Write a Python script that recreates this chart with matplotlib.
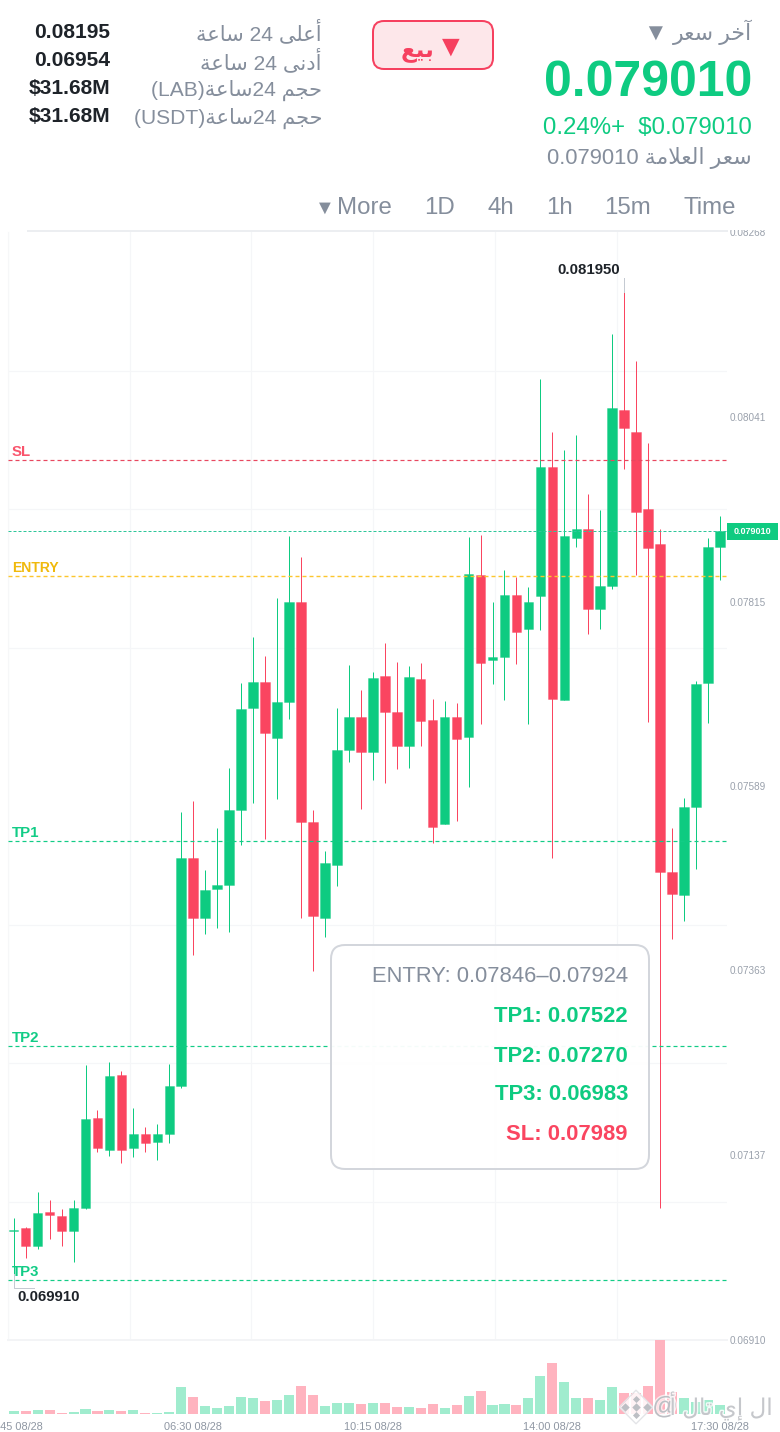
import numpy as np
import matplotlib
matplotlib.use('Agg')
import matplotlib.pyplot as plt
import matplotlib.patheffects as pe
from matplotlib.patches import FancyBboxPatch, Rectangle
from matplotlib.lines import Line2D
from matplotlib.transforms import IdentityTransform

plt.rcParams['font.family'] = ['Liberation Sans', 'DejaVu Sans']
plt.rcParams['lines.scale_dashes'] = False

# ---------- data ----------
opens = [.070436,.070473,.070252,.070669,.070620,.070436,.070718,.071821,.071429,.072348,
         .071453,.071625,.071527,.071625,.072213,.075008,.074272,.074628,.074677,.075596,
         .076846,.077165,.076478,.076920,.078145,.075449,.074272,.074922,.076331,.076736,
         .076307,.077238,.076797,.076380,.077201,.076699,.075424,.076736,.076491,.078476,
         .077434,.077471,.078231,.077814,.078221,.079800,.076944,.078930,.079040,.078059,
         .078341,.080498,.080229,.079285,.078856,.074836,.074554,.075633,.077152,.078819]
closes = [.070448,.070252,.070657,.070632,.070436,.070718,.071809,.071453,.072336,.071429,
          .071625,.071515,.071625,.072213,.075008,.074272,.074615,.074677,.075596,.076834,
          .077165,.076540,.076920,.078145,.075449,.074297,.074946,.076331,.076736,.076307,
          .077214,.076797,.076380,.077226,.076687,.075388,.076736,.076466,.078488,.077398,
          .077471,.078231,.077778,.078145,.079800,.076956,.078954,.079040,.078059,.078341,
          .080523,.080278,.079248,.078807,.074836,.074566,.075633,.077140,.078819,.079010]
highs = [.070595,.070485,.070914,.070816,.070706,.070816,.072471,.071919,.072507,.072397,
         .071944,.071711,.071747,.072483,.075571,.075706,.074861,.075375,.076111,.077152,
         .077716,.077483,.078194,.078954,.078697,.075596,.075093,.076846,.077373,.077067,
         .077287,.077643,.077410,.077361,.077398,.076956,.076932,.076907,.078942,.078966,
         .078145,.078537,.078452,.078329,.080878,.080229,.080008,.080192,.079469,.079273,
         .081430,.081950,.081099,.080094,.079040,.075375,.075743,.077177,.078930,.079199]
lows = [.069910,.070105,.070215,.070338,.070252,.070056,.070706,.071404,.071355,.071269,
        .071343,.071404,.071306,.071515,.072189,.073819,.074076,.074150,.074101,.075167,
        .075682,.075240,.075731,.076711,.074272,.073623,.074039,.074664,.076184,.075608,
        .075964,.075927,.076098,.076111,.076380,.075191,.075424,.075461,.075878,.076650,
        .077140,.076944,.077385,.076650,.077802,.075008,.076944,.078819,.077753,.077814,
        .078305,.079775,.078476,.076674,.070718,.074015,.074235,.074873,.076662,.078415]
volumes = [3,3,3.7,4,1.3,2,5,3,3.7,3.3,4,1.3,1,2,26.5,16.5,7.8,6.4,7.8,16.8,
           15.8,13,13.7,18.7,28.3,19.3,8,11,11.3,10,11,10.7,6.7,6.7,5.7,10,5.7,9.3,17.7,22.7,
           8.7,10,8.7,16.3,38.3,50.3,32,15.7,16.3,14,27,21.3,21,28.3,73.7,22,16,12,13.7,9]

price_ticks = [0.08268, 0.08041, 0.07815, 0.07589, 0.07363, 0.07137, 0.06910]
price_tick_labels = ['0.08268', '0.08041', '0.07815', '0.07589', '0.07363', '0.07137', '0.06910']
time_tick_idx = [0, 15, 30, 45, 59]
time_tick_labels = ['02:45 08/28', '06:30 08/28', '10:15 08/28', '14:00 08/28', '17:30 08/28']

level_names = ['SL', 'ENTRY', 'TP1', 'TP2', 'TP3']
level_prices = [0.07989, 0.07846, 0.07522, 0.07270, 0.06983]
level_colors = ['#e8475f', '#fcc62d', '#12cc86', '#12cc86', '#12cc86']
level_text_colors = ['#f9546c', '#f0b90b', '#12cc86', '#12cc86', '#12cc86']
last_price = 0.07901
high_price, low_price = 0.08195, 0.06991

GREEN = '#0ECB81'
RED = '#FA4560'
GREY = '#858E9C'
DARK = '#1E2329'

# ---------- Arabic shaping (matplotlib draws glyphs without joining or bidi) ----------
FORMS = {'ا':(0xFE8D,0xFE8E),'أ':(0xFE83,0xFE84),'آ':(0xFE81,0xFE82),'إ':(0xFE87,0xFE88),
         'د':(0xFEA9,0xFEAA),'ر':(0xFEAD,0xFEAE),'ة':(0xFE93,0xFE94),'ى':(0xFEEF,0xFEF0),
         'ب':(0xFE8F,0xFE90,0xFE91,0xFE92),'ت':(0xFE95,0xFE96,0xFE97,0xFE98),
         'ث':(0xFE99,0xFE9A,0xFE9B,0xFE9C),'ج':(0xFE9D,0xFE9E,0xFE9F,0xFEA0),
         'ح':(0xFEA1,0xFEA2,0xFEA3,0xFEA4),'خ':(0xFEA5,0xFEA6,0xFEA7,0xFEA8),
         'س':(0xFEB1,0xFEB2,0xFEB3,0xFEB4),'ع':(0xFEC9,0xFECA,0xFECB,0xFECC),
         'ل':(0xFEDD,0xFEDE,0xFEDF,0xFEE0),'م':(0xFEE1,0xFEE2,0xFEE3,0xFEE4),
         'ن':(0xFEE5,0xFEE6,0xFEE7,0xFEE8),'ي':(0xFEF1,0xFEF2,0xFEF3,0xFEF4)}
LAM_ALEF = {'ا':(0xFEFB,0xFEFC),'أ':(0xFEF7,0xFEF8),'إ':(0xFEF9,0xFEFA),'آ':(0xFEF5,0xFEF6)}

def ar(s):
    out, i, prev = [], 0, False
    while i < len(s):
        c = s[i]
        if c not in FORMS:
            out.append(c); prev = False; i += 1; continue
        if c == 'ل' and i + 1 < len(s) and s[i + 1] in LAM_ALEF:
            iso, fin = LAM_ALEF[s[i + 1]]
            out.append(chr(fin if prev else iso)); prev = False; i += 2; continue
        f = FORMS[c]
        nxt = i + 1 < len(s) and s[i + 1] in FORMS
        if len(f) == 2:
            out.append(chr(f[1] if prev else f[0])); prev = False
        else:
            out.append(chr(f[3] if prev and nxt else f[1] if prev else f[2] if nxt else f[0])); prev = True
        i += 1
    return ''.join(reversed(out))

# ---------- layout ----------
W, H = 780, 1432
fig = plt.figure(figsize=(W / 100, H / 100), dpi=100, facecolor='white')
px = 0.72  # one pixel in points
L, R, T, B = 8, 727, 232, 1340
ax = fig.add_axes([L / W, (H - B) / H, (R - L) / W, (B - T) / H])
axv = fig.add_axes([L / W, (H - 1414) / H, (R - L) / W, 74 / H])
ui = fig.add_axes([0, 0, 1, 1])
ui.set_xlim(0, W); ui.set_ylim(H, 0); ui.axis('off'); ui.patch.set_alpha(0)

n = len(opens)
x = np.arange(n)
xlim = (-0.476, 59.59)
o, c, h, l = map(np.array, (opens, closes, highs, lows))
up = c >= o
cols = [GREEN if u else RED for u in up]

# ---------- candles ----------
ax.vlines(x, l, h, colors=cols, lw=1.0 * px, zorder=2)
ax.bar(x, np.abs(c - o), bottom=np.minimum(o, c), width=0.80, color=cols,
       edgecolor=[(*matplotlib.colors.to_rgb(k), 0.35) for k in cols], lw=1.0 * px, zorder=3)
ax.set_xlim(*xlim)
ax.set_ylim(0.06910, 0.08268)
ax.yaxis.tick_right()
ax.set_yticks(price_ticks)
ax.set_yticklabels(price_tick_labels, color='#9AA1AC', fontsize=10 * px)
ax.set_yticks(np.linspace(0.06910, 0.08268, 9), minor=True)
ax.set_xticks(xlim[0] + 10.167 * np.arange(6), minor=True)
ax.set_xticks([])
ax.tick_params(axis='both', which='both', length=0, pad=3 * px, labelbottom=False)
ax.grid(True, which='minor', color='#F5F6F8', lw=1.2 * px, zorder=0)
ax.grid(False, which='major')
for name, sp in ax.spines.items():
    sp.set_visible(False)
ax.spines['left'].set_visible(True); ax.spines['left'].set_color('#F6F7F8'); ax.spines['left'].set_linewidth(1.2 * px)
ax.spines['bottom'].set_visible(True); ax.spines['bottom'].set_color('#F3F4F6'); ax.spines['bottom'].set_linewidth(2 * px)
ax.set_axisbelow(True)
ax.patch.set_alpha(0)

# ---------- levels ----------
ax.axhline(last_price, color='#2FC79A', lw=1.0 * px, ls=(0, (3 * px, 2 * px)), zorder=4, snap=True)
for nm, p, col, tc in zip(level_names, level_prices, level_colors, level_text_colors):
    lw = 1.4 if nm == 'ENTRY' else 1.2
    ax.axhline(p, color=col, lw=lw * px, ls=(0, (4 * px, 3 * px)), zorder=4, snap=True)
    ax.annotate(nm, xy=(0, p), xycoords=('axes fraction', 'data'), xytext=(4 * px, 1 * px),
                textcoords='offset points', color=tc, fontsize=(14 if nm == 'ENTRY' else 15) * px,
                fontweight='bold', ha='left', va='bottom', zorder=6)

# ---------- volume ----------
axv.bar(x, volumes, width=0.84, color=['#A0ECCE' if u else '#FFB3BF' for u in up], lw=0)
axv.set_xlim(*xlim)
axv.set_ylim(0, 73.7)
axv.set_yticks([])
axv.set_xticks(time_tick_idx)
axv.set_xticklabels(time_tick_labels, color='#8F97A3', fontsize=11 * px)
axv.tick_params(axis='x', length=0, pad=8 * px)
for sp in axv.spines.values():
    sp.set_visible(False)
axv.patch.set_alpha(0)

# ---------- high / low leaders ----------
fig.canvas.draw()
hx, hy = ax.transData.transform((int(np.argmax(h)), high_price))
lx, ly = ax.transData.transform((int(np.argmin(l)), low_price))
ax.add_line(Line2D([hx, hx], [hy, hy + 14], transform=IdentityTransform(), color='#C5CAD2', lw=1 * px, clip_on=False, zorder=5))
ax.add_line(Line2D([lx, lx, lx + 20], [ly, ly - 14, ly - 14], transform=IdentityTransform(), color='#C5CAD2', lw=1 * px, clip_on=False, zorder=5))
ax.annotate('0.081950', xy=(int(np.argmax(h)), high_price), xytext=(-4 * px, 22 * px), textcoords='offset points',
            ha='right', va='center', color=DARK, fontsize=15 * px, fontweight='bold', zorder=6)
ax.annotate('0.069910', xy=(int(np.argmin(l)), low_price), xytext=(4 * px, -23 * px), textcoords='offset points',
            ha='left', va='center', color=DARK, fontsize=15 * px, fontweight='bold', zorder=6)

# ---------- UI overlay ----------
def t(x_, y_, s, size, color=GREY, weight='normal', ha='right', **kw):
    return ui.text(x_, y_ + 2, s, fontsize=size * px, color=color, fontweight=weight, ha=ha, va='center',
                   parse_math=False, **kw)

ui.add_patch(Rectangle((0, 0), W, 230, fc='white', ec='none', zorder=1))
ui.add_line(Line2D([28, R], [231, 231], color='#ECEEF1', lw=2 * px, zorder=2))

# left stats
stat_rows = [31, 59, 87, 115]
stat_name_rows = [30, 59, 88, 116]
stat_vals = ['0.08195', '0.06954', '$31.68M', '$31.68M']
stat_names = [ar('ساعة') + ' 24 ' + ar('أعلى'),
              ar('ساعة') + ' 24 ' + ar('أدنى'),
              '(LAB)' + ar('ساعة') + '24 ' + ar('حجم'),
              '(USDT)' + ar('ساعة') + '24 ' + ar('حجم')]
for y_, ny, v, nm in zip(stat_rows, stat_name_rows, stat_vals, stat_names):
    t(110, y_, v, 21, DARK, 'bold', zorder=3)
    t(322, ny, nm, 21, GREY, zorder=3)

# button
ui.add_patch(FancyBboxPatch((373, 21), 120, 48, boxstyle='round,pad=0,rounding_size=11',
                            fc='#FDE7EA', ec='#F6405F', lw=2 * px, zorder=3))
t(451, 46, '▼', 30, '#F6405F', ha='center', zorder=4)
t(417, 48, ar('بيع'), 23, '#F6405F', 'bold', ha='center', zorder=4)

# last price
t(752, 30, ar('آخر سعر'), 22, GREY, zorder=3)
t(655, 33, '▼', 24, GREY, ha='center', zorder=3)
t(752, 81, '0.079010', 50, GREEN, 'bold', zorder=3)
t(752, 126, '0.24%+  $0.079010', 24, GREEN, zorder=3)
t(752, 156, '0.079010 ' + ar('سعر العلامة'), 22, GREY, zorder=3)

# tabs
for label, xr in [('Time', 736), ('15m', 651), ('1h', 573), ('4h', 514), ('1D', 455), ('More', 392)]:
    t(xr, 206, label, 24, GREY, zorder=3)
t(325, 206, '▼', 20, GREY, ha='center', zorder=3)

# last price tag
tag_y = H - ax.transData.transform((0, last_price))[1]
ui.add_patch(Rectangle((R, tag_y - 8.5), 51, 17, fc=GREEN, ec='none', zorder=3))
t(R + 25.5, tag_y - 1.5, '0.079010', 9, 'white', 'bold', ha='center', zorder=4)

# info box
ui.add_patch(FancyBboxPatch((331, 945), 318, 224, boxstyle='round,pad=0,rounding_size=14',
                            fc=(1, 1, 1, 0.96), ec='#D3D6DC', lw=2 * px, zorder=3))
info_rows = [(974, 'ENTRY: 0.07846–0.07924', GREY, 'normal'),
             (1014, 'TP1: 0.07522', GREEN, 'bold'),
             (1054, 'TP2: 0.07270', GREEN, 'bold'),
             (1093, 'TP3: 0.06983', GREEN, 'bold'),
             (1133, 'SL: 0.07989', RED, 'bold')]
for y_, s, col, w in info_rows:
    t(628, y_, s, 22, col, w, zorder=4)

# watermark
wm = '#BDBFC4'
halo = [pe.withStroke(linewidth=2.0, foreground=(1, 1, 1, 0.7))]
ui.scatter([636], [1407], marker='D', s=(30 * px) ** 2 / 1.6, color='white', alpha=0.85, lw=0, zorder=5)
ui.scatter([636], [1407], marker='D', s=(30 * px) ** 2 / 1.6, facecolor='none', edgecolor='#E4E5E8', lw=1, zorder=5)
for dx, dy, sz in [(-11, 0, 6), (0, 0, 6), (11, 0, 6), (0, -8, 5), (0, 8, 5)]:
    ui.scatter([636 + dx], [1407 + dy], marker='D', s=(sz * px) ** 2, color=wm, lw=0, zorder=6)
t(665, 1405, '@', 25, wm, ha='center', zorder=5, path_effects=halo)
t(773, 1404, ar('ال إي تال أ'), 23, wm, alpha=0.85, zorder=5, path_effects=halo)

fig.savefig('out.png', dpi=100, facecolor='white')
